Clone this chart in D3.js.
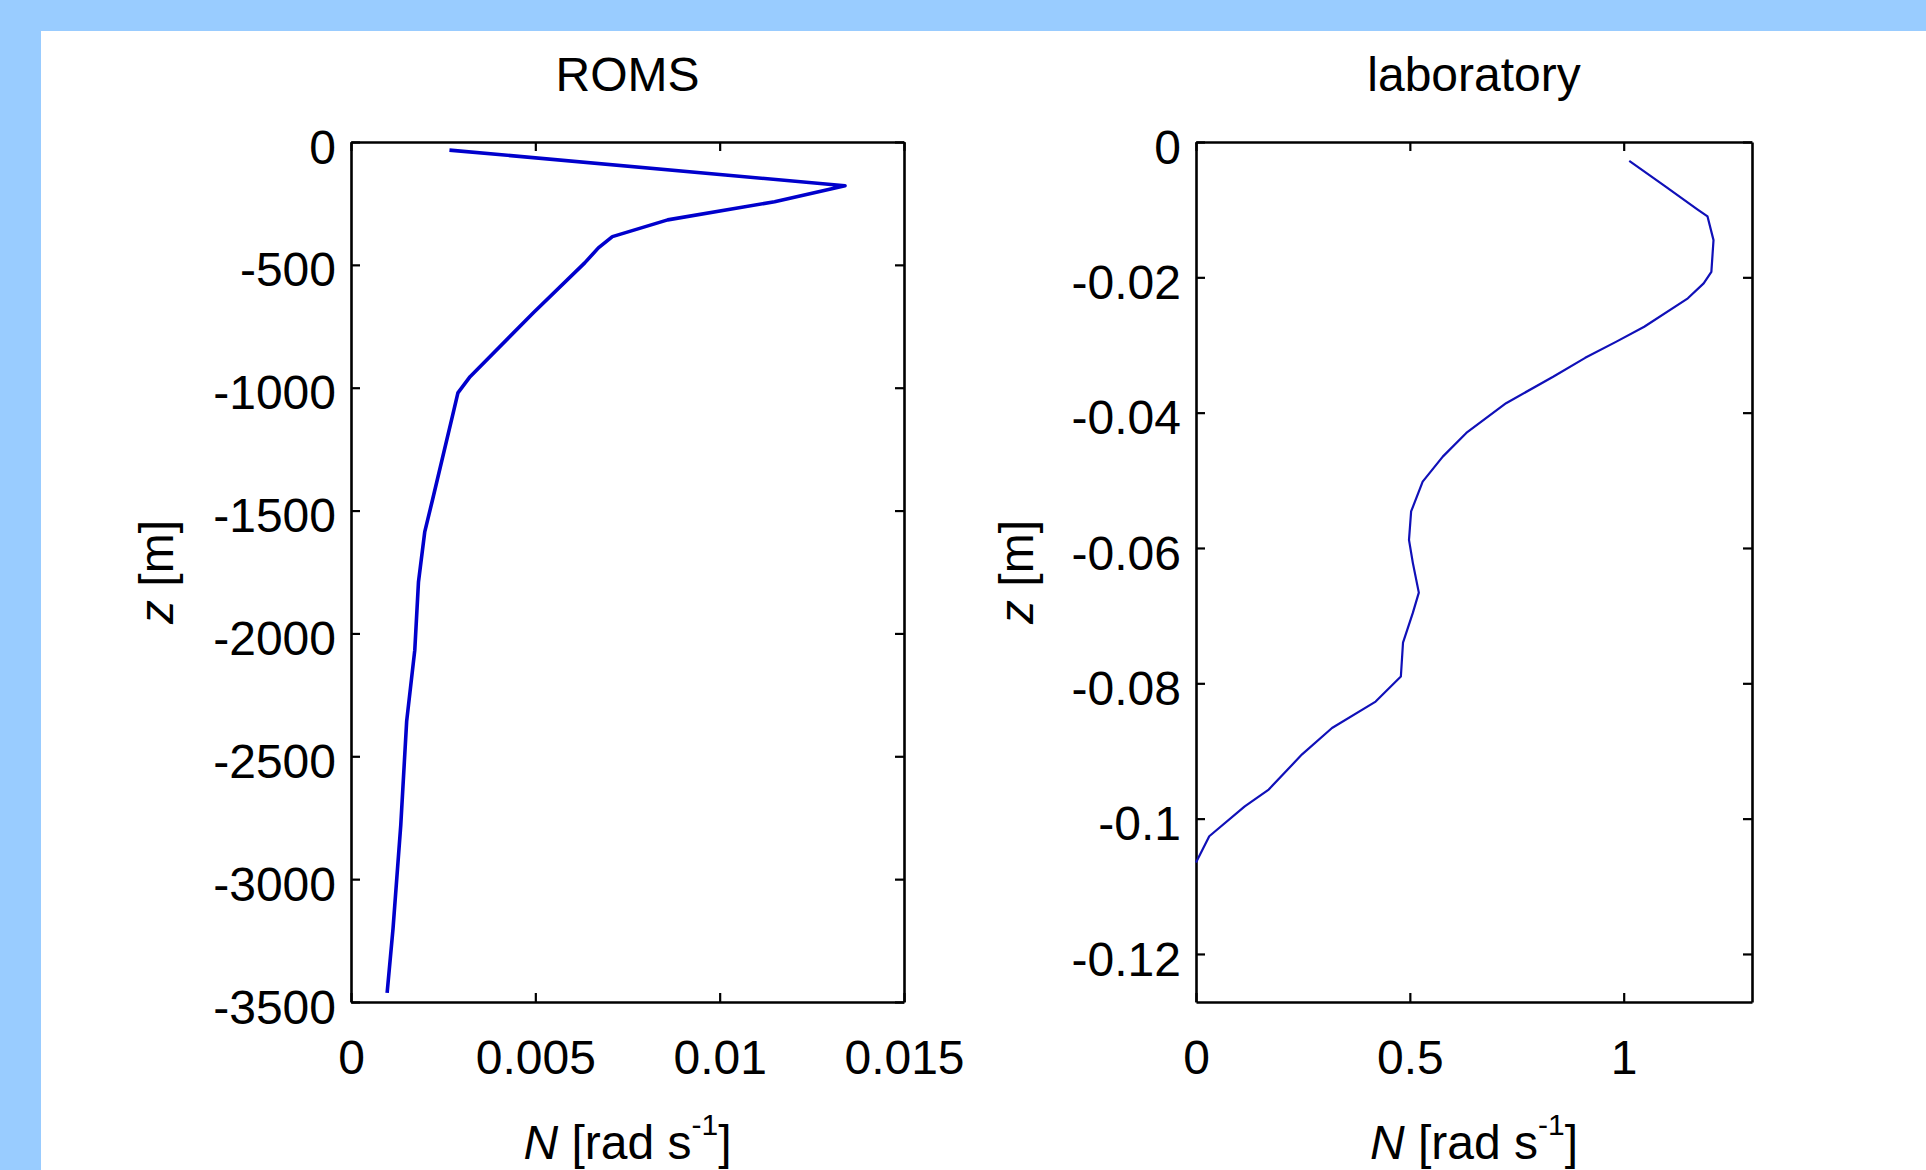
<!DOCTYPE html>
<html>
<head>
<meta charset="utf-8">
<script src="https://cdn.jsdelivr.net/npm/d3@7"></script>
<style>
    html, body { margin: 0; padding: 0; overflow: hidden; background: #99ccff; }
    svg { display: block; }
    text { font-family: "Liberation Sans", Arial, Helvetica, sans-serif; fill: #000; }
</style>
</head>
<body>
<svg id="chart" width="1926" height="1170"></svg>
<script>
"use strict";

// ROMS profile
var romsN = [0.00267, 0.0134, 0.01149, 0.00859, 0.00709, 0.00671, 0.00634, 0.00494,
    0.00323, 0.0029, 0.00279, 0.00221, 0.0020, 0.00183, 0.00173, 0.00151, 0.00135,
    0.00114, 0.00098];
var romsZ = [-33, -178, -243, -317, -385, -431, -492, -696,
    -955, -1021, -1091, -1457, -1587, -1791, -2068, -2357, -2780,
    -3201, -3463];

// laboratory profile
var labN = [1.013, 1.094, 1.173, 1.196, 1.210, 1.205, 1.187, 1.150, 1.048, 0.983,
    0.910, 0.835, 0.725, 0.632, 0.577, 0.530, 0.503, 0.498, 0.507, 0.521,
    0.507, 0.484, 0.479, 0.420, 0.318, 0.248, 0.170, 0.114, 0.031, 0.0];
var labZ = [-0.0028, -0.0064, -0.0100, -0.0110, -0.0145, -0.0192, -0.0209, -0.0231, -0.0273, -0.0295,
    -0.0319, -0.0347, -0.0386, -0.0430, -0.0465, -0.0502, -0.0546, -0.0588, -0.0622, -0.0666,
    -0.0696, -0.0740, -0.0790, -0.0827, -0.0866, -0.0905, -0.0957, -0.0982, -0.1026, -0.1065];

var romsXTicks = [0, 0.005, 0.01, 0.015];
var romsXLabels = ["0", "0.005", "0.01", "0.015"];
var romsYTicks = [0, -500, -1000, -1500, -2000, -2500, -3000, -3500];
var romsYLabels = ["0", "-500", "-1000", "-1500", "-2000", "-2500", "-3000", "-3500"];

var labXTicks = [0, 0.5, 1];
var labXLabels = ["0", "0.5", "1"];
var labYTicks = [0, -0.02, -0.04, -0.06, -0.08, -0.1, -0.12];
var labYLabels = ["0", "-0.02", "-0.04", "-0.06", "-0.08", "-0.1", "-0.12"];

var titles = ["ROMS", "laboratory"];

var svg = d3.select("#chart");
svg.append("rect")
    .attr("x", 41).attr("y", 31)
    .attr("width", 1926 - 41).attr("height", 1170 - 31)
    .attr("fill", "#ffffff");

function drawPanel(opt) {
    var x = d3.scaleLinear().domain(opt.xDomain).range([opt.left, opt.right]);
    var y = d3.scaleLinear().domain(opt.yDomain).range([opt.bottom, opt.top]);
    var fontSize = 48;
    var tickLen = 9;

    function fmt(ticks, labels) {
        return function (d) { return labels[ticks.indexOf(d)]; };
    }

    var gB = svg.append("g")
        .attr("transform", "translate(0," + opt.bottom + ")")
        .call(d3.axisBottom(x).tickValues(opt.xTicks).tickFormat(fmt(opt.xTicks, opt.xLabels))
            .tickSizeInner(-tickLen).tickSizeOuter(0).tickPadding(38));
    var gT = svg.append("g")
        .attr("transform", "translate(0," + opt.top + ")")
        .call(d3.axisTop(x).tickValues(opt.xTicks).tickFormat("")
            .tickSizeInner(-tickLen).tickSizeOuter(0));
    var gL = svg.append("g")
        .attr("transform", "translate(" + opt.left + ",0)")
        .call(d3.axisLeft(y).tickValues(opt.yTicks).tickFormat(fmt(opt.yTicks, opt.yLabels))
            .tickSizeInner(-tickLen).tickSizeOuter(0).tickPadding(15));
    var gR = svg.append("g")
        .attr("transform", "translate(" + opt.right + ",0)")
        .call(d3.axisRight(y).tickValues(opt.yTicks).tickFormat("")
            .tickSizeInner(-tickLen).tickSizeOuter(0));

    [gB, gT, gL, gR].forEach(function (g) {
        g.select(".domain").attr("stroke", "#000").attr("stroke-width", 2.6);
        g.selectAll(".tick line").attr("stroke", "#000").attr("stroke-width", 2.2);
        g.selectAll("text").style("font-size", fontSize + "px")
            .style("font-family", '"Liberation Sans", Arial, sans-serif');
    });
    gL.selectAll(".tick text").attr("dy", "0.44em");

    var line = d3.line()
        .x(function (d) { return x(d[0]); })
        .y(function (d) { return y(d[1]); });

    svg.append("path")
        .datum(d3.zip(opt.n, opt.z))
        .attr("d", line)
        .attr("fill", "none")
        .attr("stroke", opt.color)
        .attr("stroke-width", opt.lineWidth)
        .attr("stroke-linejoin", "round");

    var cx = (opt.left + opt.right) / 2;
    svg.append("text")
        .attr("x", cx).attr("y", 91)
        .attr("text-anchor", "middle")
        .style("font-size", fontSize + "px")
        .text(opt.title);

    var xl = svg.append("text")
        .attr("x", cx).attr("y", 1159)
        .attr("text-anchor", "middle")
        .style("font-size", fontSize + "px");
    xl.append("tspan").style("font-style", "italic").text("N");
    xl.append("tspan").text(" [rad s");
    xl.append("tspan").attr("dy", -24).style("font-size", "30px").text("-1");
    xl.append("tspan").attr("dy", 24).text("]");

    var cy = (opt.top + opt.bottom) / 2;
    var yl = svg.append("text")
        .attr("transform", "translate(" + opt.yLabelX + "," + cy + ") rotate(-90)")
        .attr("text-anchor", "middle")
        .style("font-size", fontSize + "px");
    yl.append("tspan").style("font-style", "italic").text("z");
    yl.append("tspan").text(" [m]");
}

drawPanel({
    left: 351, right: 904, top: 142, bottom: 1002,
    xDomain: [0, 0.015], yDomain: [-3500, 0],
    xTicks: romsXTicks, xLabels: romsXLabels,
    yTicks: romsYTicks, yLabels: romsYLabels,
    n: romsN, z: romsZ,
    color: "#0000cc", lineWidth: 3.6,
    title: titles[0], yLabelX: 173
});

drawPanel({
    left: 1196, right: 1752, top: 142, bottom: 1002,
    xDomain: [0, 1.3], yDomain: [-0.1271, 0],
    xTicks: labXTicks, xLabels: labXLabels,
    yTicks: labYTicks, yLabels: labYLabels,
    n: labN, z: labZ,
    color: "#1010b8", lineWidth: 2.2,
    title: titles[1], yLabelX: 1033
});
</script>
</body>
</html>
